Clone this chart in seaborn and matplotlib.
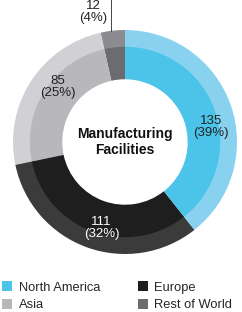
import matplotlib
matplotlib.use("Agg")
import matplotlib.pyplot as plt
import seaborn as sns
from matplotlib.patches import Patch

# data (counter-clockwise from 12 o'clock)
regions = ["Rest of World", "Asia", "Europe", "North America"]
counts = [12, 85, 111, 135]
pcts = [4, 25, 32, 39]
inner_cols = ["#6b6b70", "#b7b7bc", "#1e1e1e", "#4cc3e8"]
outer_cols = ["#8b8b90", "#d1d1d5", "#3b3b3b", "#88d2ef"]
# column-major order so rows read: North America, Europe / Asia, Rest of World
legend_order = ["North America", "Asia", "Europe", "Rest of World"]

sns.set_theme(style="white")
plt.rcParams['font.family'] = ['Liberation Sans', 'DejaVu Sans']

fig = plt.figure(figsize=(2.42, 3.12), dpi=100)
ax = fig.add_axes([13/242, (312-254)/312, 224/242, 224/312])

ax.pie(counts, colors=outer_cols, startangle=90, counterclock=True, radius=1.0,
       wedgeprops=dict(width=0.16, linewidth=0))
ax.pie(counts, colors=inner_cols, startangle=90, counterclock=True, radius=0.85,
       wedgeprops=dict(width=0.29, linewidth=0))
ax.set_xlim(-1, 1)
ax.set_ylim(-1, 1)
ax.set_aspect("equal")
ax.axis("off")

label_pos = [(-0.28, 1.16), (-0.6, 0.49), (-0.21, -0.77), (0.77, 0.13)]
label_col = ["#222222", "#222222", "white", "#222222"]
for (x, y), c, p, col in zip(label_pos, counts, pcts, label_col):
    ax.text(x, y, f"{c}\n({p}%)", ha="center", va="center", fontsize=9.5,
            color=col, linespacing=1.0, clip_on=False)

ax.plot([-0.125, -0.125], [0.99, 1.3], color="#444444", lw=0.7, clip_on=False)

ax.text(0, 0, "Manufacturing\nFacilities", ha="center", va="center",
        fontsize=10, fontweight="bold", color="#111111", linespacing=1.15)

col_map = dict(zip(regions, inner_cols))
handles = [Patch(facecolor=col_map[r], edgecolor="none", label=r) for r in legend_order]
fig.legend(handles=handles, ncol=2, loc="lower left", bbox_to_anchor=(-0.04, -0.035),
           frameon=False, fontsize=9.3, handlelength=0.8, handleheight=0.8,
           handletextpad=0.5, columnspacing=2.9, labelspacing=0.4)

fig.savefig("out.png", dpi=100)
